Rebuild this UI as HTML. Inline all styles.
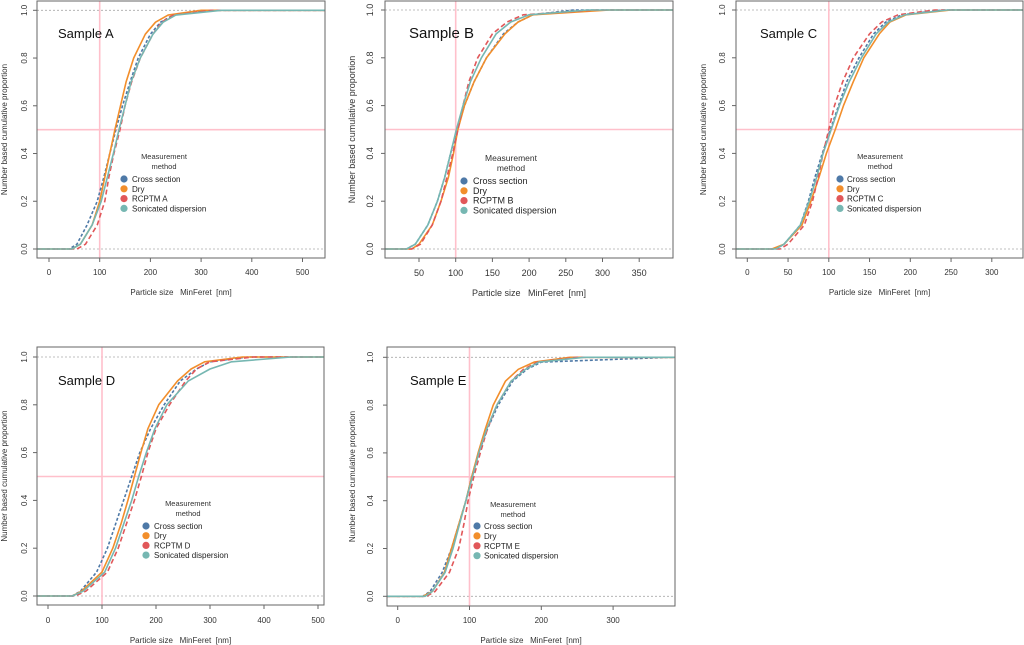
<!DOCTYPE html>
<html><head><meta charset="utf-8">
<style>
body{margin:0;background:#fff;}
svg{display:block;font-family:"Liberation Sans",sans-serif;}
.pre{white-space:pre;}
</style></head>
<body>
<svg id="root" width="1024" height="645" viewBox="0 0 1024 645" xmlns="http://www.w3.org/2000/svg"></svg>
<script>
// cumulative proportion grid (shared)
const probs = [0,0.02,0.1,0.2,0.3,0.4,0.5,0.6,0.7,0.8,0.9,0.95,0.98,1];
const seriesNames = ["Cross section","Dry","RCPTM","Sonicated dispersion"];
// sizes (nm) at each cumulative proportion
const A_cross = [40,55,75,95,108,120,132,145,160,176,200,220,245,320];
const A_dry   = [45,62,85,100,110,120,130,141,152,167,190,210,235,300];
const A_rcptm = [55,72,95,110,118,128,140,150,163,180,205,222,245,320];
const A_son   = [45,62,85,103,115,127,138,150,162,180,205,225,250,340];
const B_cross = [33,45,62,75,85,93,102,112,125,142,165,185,205,260];
const B_dry   = [40,50,68,80,90,97,103,112,125,142,167,185,205,310];
const B_rcptm = [40,52,68,80,88,96,103,110,118,130,150,170,192,290];
const B_son   = [33,45,62,75,85,93,101,110,120,135,155,175,200,280];
const C_cross = [35,45,65,75,83,92,102,112,122,137,155,170,190,240];
const C_dry   = [30,45,67,78,88,97,108,118,130,143,162,175,195,250];
const C_rcptm = [40,50,70,80,87,93,100,107,117,130,150,165,185,230];
const C_son   = [35,45,65,76,85,93,103,113,125,140,158,173,193,245];
const D_cross = [45,60,90,110,125,140,155,170,190,215,245,275,300,370];
const D_dry   = [45,62,100,120,135,148,160,172,185,205,240,265,290,360];
const D_rcptm = [50,70,110,130,145,160,173,185,200,225,255,275,300,380];
const D_son   = [45,65,105,125,140,155,168,182,198,220,260,300,340,450];
const E_cross = [35,45,62,75,85,95,103,113,125,140,160,180,200,380];
const E_dry   = [35,48,65,75,85,95,103,112,122,133,150,168,190,240];
const E_rcptm = [40,52,72,85,92,98,106,115,125,138,158,175,195,250];
const E_son   = [38,48,66,77,86,95,104,113,124,138,158,178,197,260];
const A_ticks = [0,100,200,300,400,500];
const B_ticks = [50,100,150,200,250,300,350];
const C_ticks = [0,50,100,150,200,250,300];
const D_ticks = [0,100,200,300,400,500];
const E_ticks = [0,100,200,300];
const yTicks = [0,0.2,0.4,0.6,0.8,1.0];

const colors = ["#4e79a7","#f28e2b","#e15759","#76b7b2"];
const dashes = ["3,2","","5,3",""];
const NS = "http://www.w3.org/2000/svg";
const root = document.getElementById("root");
function mk(tag, attrs, parent, text){
  const e = document.createElementNS(NS, tag);
  for (const k in attrs) e.setAttribute(k, attrs[k]);
  if (text !== undefined) e.textContent = text;
  (parent||root).appendChild(e);
  return e;
}
const panels = [
 {id:"a",label:"Sample A",letter:"A",data:[A_cross,A_dry,A_rcptm,A_son],ticks:A_ticks,
  box:[37,1,325,258],x0:49,pxPer:0.507,y1:10.3,y0:249,lab:[58,38,13],leg:[164,156,124,132,179,9.8,8],fs:8,tickY:275,titleY:295,yl:27,yt:7},
 {id:"b",label:"Sample B",letter:"B",data:[B_cross,B_dry,B_rcptm,B_son],ticks:B_ticks,
  box:[385,1,673,258],x0:382.3,pxPer:0.734,y1:10,y0:249,lab:[409,38,15],leg:[511,158,464,473,181,9.8,9],fs:9,tickY:276,titleY:296,yl:373,yt:355},
 {id:"c",label:"Sample C",letter:"C",data:[C_cross,C_dry,C_rcptm,C_son],ticks:C_ticks,
  box:[736,1,1023,258],x0:747.3,pxPer:0.815,y1:10,y0:249,lab:[760,38,13],leg:[880,156,840,847,179,9.8,8],fs:8,tickY:275,titleY:295,yl:725,yt:706},
 {id:"d",label:"Sample D",letter:"D",data:[D_cross,D_dry,D_rcptm,D_son],ticks:D_ticks,
  box:[37,347,324,605],x0:48,pxPer:0.54,y1:357,y0:596,lab:[58,385,13],leg:[188,503,146,154,526,9.7,8],fs:8,tickY:623,titleY:643,yl:27,yt:7},
 {id:"e",label:"Sample E",letter:"E",data:[E_cross,E_dry,E_rcptm,E_son],ticks:E_ticks,
  box:[387,347,675,606],x0:397.7,pxPer:0.718,y1:357.3,y0:596.3,lab:[410,385,13],leg:[513,504,477,484,526,9.9,8],fs:8,tickY:623,titleY:643,yl:373,yt:355}
];
panels.forEach(p=>{
  const g = mk("g",{});
  
  
  const [L,T,R,B] = p.box;
  const xs = v => p.x0 + v*p.pxPer;
  const ys = v => p.y0 + (p.y1-p.y0)*v;
  [0,1].forEach(v=>{ const l=mk("line",{x1:L,x2:R,y1:ys(v),y2:ys(v),stroke:"#aaa","stroke-width":0.8,"stroke-dasharray":"2,2"},g);
      });
  const pv=mk("line",{x1:xs(100),x2:xs(100),y1:T,y2:B,stroke:"#ffc0cb","stroke-width":1.6},g);
   
  const ph=mk("line",{x1:L,x2:R,y1:ys(0.5),y2:ys(0.5),stroke:"#ffc0cb","stroke-width":1.6},g);
   
  p.data.forEach((arr,si)=>{
    let pts = [[L, ys(0)]];
    arr.forEach((v,i)=>pts.push([xs(v), ys(probs[i])]));
    pts.push([R, ys(1)]);
    const d = pts.map((q,i)=>(i?"L":"M")+q[0].toFixed(1)+","+q[1].toFixed(1)).join("");
    const a = {d:d,fill:"none",stroke:colors[si],"stroke-width":1.6,"stroke-linejoin":"round"};
    if (dashes[si]) a["stroke-dasharray"]=dashes[si];
    const path = mk("path",a,g);
    
    
  });
  const bx=mk("rect",{x:L,y:T,width:R-L,height:B-T,fill:"none",stroke:"#666","stroke-width":1},g);
   
  p.ticks.forEach(t=>{
    const x=xs(t);
    const tk=mk("line",{x1:x,x2:x,y1:B,y2:B+4,stroke:"#666"},g);
     
    const tl=mk("text",{x:x,y:p.tickY,"font-size":p.fs,"text-anchor":"middle",fill:"#333"},g,String(t));
     
  });
  yTicks.forEach(t=>{
    const y=ys(t);
    const tk=mk("line",{x1:L-4,x2:L,y1:y,y2:y,stroke:"#666"},g);
     
    const tl=mk("text",{x:p.yl,y:y,"font-size":p.fs,"text-anchor":"middle",fill:"#333",transform:`rotate(-90 ${p.yl} ${y})`},g,t.toFixed(1));
     
  });
  const xt=mk("text",{x:(L+R)/2,y:p.titleY,"font-size":p.fs,"text-anchor":"middle",fill:"#333","class":"pre"},g,"Particle size   MinFeret  [nm]");
   
  const ym=(T+B)/2;
  const yt=mk("text",{x:p.yt,y:ym,"font-size":p.fs,"text-anchor":"middle",fill:"#333",transform:`rotate(-90 ${p.yt} ${ym})`},g,"Number based cumulative proportion");
   
  const lb=mk("text",{x:p.lab[0],y:p.lab[1],"font-size":p.lab[2],fill:"#111"},g,p.label);
   
  const [cx,ty,dx,tx,ey,step,lf]=p.leg;
  const lg=mk("g",{},g);
   
  const t1=mk("text",{x:cx,y:ty+3,"font-size":lf-0.5,"text-anchor":"middle",fill:"#333"},lg,"Measurement");
   
  const t2=mk("text",{x:cx,y:ty+13,"font-size":lf-0.5,"text-anchor":"middle",fill:"#333"},lg,"method");
   
  seriesNames.forEach((n,i)=>{
    const y=ey+i*step;
    const c=mk("circle",{cx:dx,cy:y,r:3.6,fill:colors[i]},lg);
     
    const txt = n==="RCPTM" ? "RCPTM "+p.letter : n;
    const tt=mk("text",{x:tx,y:y+3,"font-size":lf,fill:"#222"},lg,txt);
     
  });
});
</script>
</body></html>
